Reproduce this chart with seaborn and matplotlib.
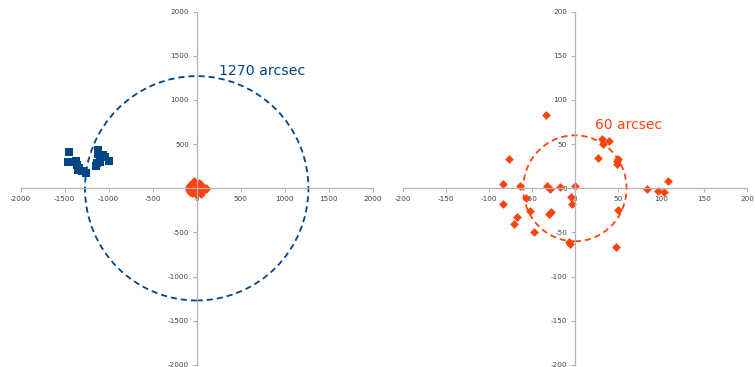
import matplotlib
matplotlib.use("Agg")
import matplotlib.pyplot as plt
import pandas as pd
import seaborn as sns
from matplotlib.patches import Circle

# Source offsets (arcsec) of the two groups
wide_x = [-1447, -1466, -1420, -1371, -1356, -1333, -1352, -1307, -1258,
          -1125, -1125, -1061, -1042, -992, -1148, -1136, -1098]
wide_y = [409, 303, 303, 311, 265, 227, 208, 201, 170,
          436, 386, 379, 360, 311, 258, 284, 303]

near_x = [-33.7, -76.5, -83.0, -64.0, -32.6, -28.4, -17.8, 0.4, -56.4, -4.5,
          -83.3, -3.8, -52.0, -28.0, -30.0, -67.4, -70.8, -48.0, -6.8, -5.3,
          31.2, 32.7, 39.2, 26.6, 50.2, 49.4, 49.4, 83.7, 96.2, 103.0,
          108.7, 50.2, 47.9]
near_y = [83.3, 33.0, 4.5, 2.3, 2.7, -1.0, 1.1, 3.0, -11.4, -10.2,
          -17.8, -18.2, -25.4, -27.3, -28.8, -32.2, -40.9, -49.6, -60.6, -62.5,
          56.3, 50.2, 53.6, 34.6, 32.7, 30.4, 27.8, -1.1, -2.7, -3.8,
          8.0, -24.7, -66.2]

wide_radius = 1270
near_radius = 60
wide_label = "1270 arcsec"
near_label = "60 arcsec"
wide_ticks = list(range(-2000, 2001, 500))
near_ticks = list(range(-200, 201, 50))

BLUE = "#004586"
ORANGE = "#ff420e"
AXIS_GREY = "#b3b3b3"

sns.set_theme(style="white")
plt.rcParams["font.family"] = ["DejaVu Sans"]
plt.rcParams["axes.unicode_minus"] = False

wide_df = pd.DataFrame({"x": wide_x, "y": wide_y})
near_df = pd.DataFrame({"x": near_x, "y": near_y})

fig = plt.figure(figsize=(7.55, 3.67), dpi=100)
ax_wide = fig.add_axes([0.0274, 0.0055, 0.4662, 0.9627])
ax_near = fig.add_axes([0.5334, 0.0055, 0.4560, 0.9627])


def style_axes(ax, ticks):
    lim = (ticks[0], ticks[-1])
    ax.set_xlim(lim)
    ax.set_ylim(lim)
    ax.set_xticks(ticks)
    ax.set_yticks(ticks)
    ax.set_xticklabels([str(t) for t in ticks])
    ax.set_yticklabels([str(t) for t in ticks])
    for side in ("top", "right"):
        ax.spines[side].set_visible(False)
    for side in ("left", "bottom"):
        ax.spines[side].set_position("zero")
        ax.spines[side].set_color(AXIS_GREY)
        ax.spines[side].set_linewidth(0.9)
    ax.tick_params(axis="both", direction="out", length=3, width=0.8,
                   color=AXIS_GREY, labelsize=5.2, labelcolor="#444444", pad=2.5)
    ax.xaxis.set_ticks_position("bottom")
    ax.yaxis.set_ticks_position("left")
    ax.set_xlabel("")
    ax.set_ylabel("")
    ax.patch.set_alpha(0)


# Wide field: both groups plus the 1270" circle
sns.scatterplot(data=wide_df, x="x", y="y", ax=ax_wide, marker="s", s=32,
                color=BLUE, linewidth=0, zorder=0.8)
sns.scatterplot(data=near_df, x="x", y="y", ax=ax_wide, marker="D", s=20,
                color=ORANGE, linewidth=0, zorder=0.8)
ax_wide.add_patch(Circle((0, 0), wide_radius, fill=False, edgecolor=BLUE,
                         linewidth=1.3, linestyle=(0, (3.4, 2.2)), zorder=0.9))
ax_wide.text(257, 1283, wide_label, color=BLUE, fontsize=10.2, va="baseline",
             ha="left")
style_axes(ax_wide, wide_ticks)

# Close-up: the nearby group and the 60" circle
sns.scatterplot(data=near_df, x="x", y="y", ax=ax_near, marker="D", s=20,
                color=ORANGE, linewidth=0, zorder=0.8)
ax_near.add_patch(Circle((0, 0), near_radius, fill=False, edgecolor=ORANGE,
                         linewidth=1.3, linestyle=(0, (3.4, 2.2)), zorder=0.9))
ax_near.text(23, 67.4, near_label, color=ORANGE, fontsize=10.0, va="baseline",
             ha="left")
style_axes(ax_near, near_ticks)

fig.savefig("out.png", dpi=100)
